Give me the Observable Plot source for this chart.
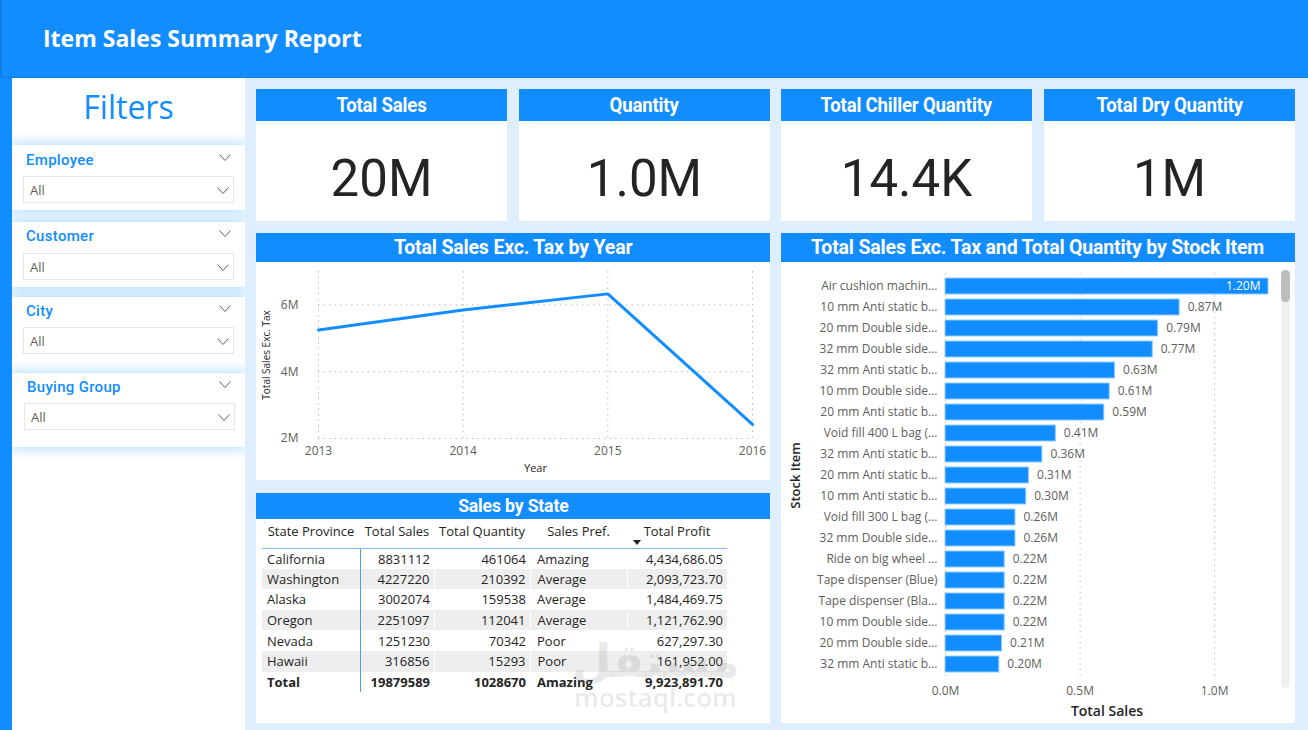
<!DOCTYPE html>
<html lang="en"><head><meta charset="utf-8">
<title>Item Sales Summary Report</title>
<script src="https://cdn.jsdelivr.net/npm/d3@7"></script>
<script src="https://cdn.jsdelivr.net/npm/@observablehq/plot@0.6"></script>
<style>
*{box-sizing:border-box}
html,body{margin:0;padding:0}
body{width:1308px;height:730px;overflow:hidden;position:relative;background:#DFEEFD;font-family:"Open Sans","Noto Sans",sans-serif;color:#252423}
.abs{position:absolute}
svg{display:block}
#topbar{left:0;top:0;width:1308px;height:78px;background:#118DFF;border-bottom:1px solid #0E7FE8;border-left:2px solid #0E7FE8}
#title{left:43px;top:22px;font-size:23px;font-weight:700;color:#fff;white-space:nowrap;line-height:32px}
#strip{left:0;top:78px;width:12px;height:652px;background:#118DFF}
#panel{left:12px;top:78px;width:233px;height:652px;background:#fff;overflow:hidden}
#filtersTitle{left:0;top:9px;width:233px;text-align:center;font-size:32px;font-weight:400;line-height:40px;color:#118DFF}
.slicer{position:absolute;left:0;width:233px;background:#fff;box-shadow:0 0 12px 2px rgba(17,141,255,0.30)}
.slicer .lab{position:absolute;left:14px;font-family:Roboto,sans-serif;font-weight:500;font-size:15px;line-height:20px;color:#118DFF;letter-spacing:0.3px}
.slicer .box{position:absolute;height:27px;width:211px;border:1px solid #E6E6E6;background:#fff}
.slicer .box span{position:absolute;left:6px;top:5px;font-size:13px;line-height:17px;color:#605E5C}
.chev{position:absolute}
.card{position:absolute;background:#fff}
.card .hd{position:absolute;left:0;top:0;width:100%;background:#118DFF;color:#fff;text-align:center;white-space:nowrap;overflow:hidden}
.card .hd span{display:inline-block;font-family:Roboto,sans-serif;font-weight:700;transform:scaleX(0.93);transform-origin:center;letter-spacing:-0.2px}
.kpi .val{position:absolute;left:0;top:40px;width:100%;height:100px;text-align:center;font-family:Roboto,sans-serif;font-weight:400;font-size:51px;line-height:100px;color:#252423}
table{border-collapse:collapse;table-layout:fixed;font-size:13px;color:#252423}
th{font-weight:400;height:29px;text-align:center;padding:0;white-space:nowrap;border-bottom:1px solid #7DBBF7;position:relative;vertical-align:top;padding-top:3px}
td{height:20.6px;padding:0 4px;white-space:nowrap;line-height:20px}
td.c0{padding-left:5px;border-right:1px solid #4A9FF0}
td.num{text-align:right}
tr.alt td{background:#EEEEEE}
tr.alt td.s{border-right:1px solid #fff}
tr.tot td{font-weight:700}
#watermark{left:568px;top:636px;width:175px;text-align:center;color:rgba(120,120,120,0.16);pointer-events:none;line-height:1}
#scroll{left:1281px;top:270px;width:9px;height:418px;border-radius:5px;background:#F0F0F0}
#thumb{left:1281px;top:270px;width:9px;height:32px;border-radius:5px;background:#BDBDBD}
</style>
</head>
<body>
<div id="topbar" class="abs"></div>
<div id="title" class="abs">Item Sales Summary Report</div>
<div id="strip" class="abs"></div>
<div id="panel" class="abs"><div id="filtersTitle" class="abs">Filters</div></div>
<script>
// ---------------- data ----------------
const filterNames = ["Employee", "Customer", "City", "Buying Group"];
const filterValues = ["All", "All", "All", "All"];

const kpiTitles = ["Total Sales", "Quantity", "Total Chiller Quantity", "Total Dry Quantity"];
const kpiValues = ["20M", "1.0M", "14.4K", "1M"];

const years = [2013, 2014, 2015, 2016];
const salesExTax = [5.25e6, 5.85e6, 6.33e6, 2.42e6];
const lineTicks = [2e6, 4e6, 6e6];

const tableColumns = ["State Province", "Total Sales", "Total Quantity", "Sales Pref.", "Total Profit"];
const states = ["California", "Washington", "Alaska", "Oregon", "Nevada", "Hawaii"];
const stateSales = [8831112, 4227220, 3002074, 2251097, 1251230, 316856];
const stateQuantity = [461064, 210392, 159538, 112041, 70342, 15293];
const statePref = ["Amazing", "Average", "Average", "Average", "Poor", "Poor"];
const stateProfit = [4434686.05, 2093723.70, 1484469.75, 1121762.90, 627297.30, 161952.00];
const totalRow = ["Total", 19879589, 1028670, "Amazing", 9923891.70];

const stockItems = [
  "Air cushion machin...", "10 mm Anti static b...", "20 mm Double side...", "32 mm Double side...",
  "32 mm Anti static b...", "10 mm Double side...", "20 mm Anti static b...", "Void fill 400 L bag (...",
  "32 mm Anti static b...", "20 mm Anti static b...", "10 mm Anti static b...", "Void fill 300 L bag (...",
  "32 mm Double side...", "Ride on big wheel ...", "Tape dispenser (Blue)", "Tape dispenser (Bla...",
  "10 mm Double side...", "20 mm Double side...", "32 mm Anti static b..."
];
const stockSales = [1.20e6, 0.87e6, 0.79e6, 0.77e6, 0.63e6, 0.61e6, 0.59e6, 0.41e6, 0.36e6, 0.31e6,
  0.30e6, 0.26e6, 0.26e6, 0.22e6, 0.22e6, 0.22e6, 0.22e6, 0.21e6, 0.20e6];
const barTicks = [0, 0.5e6, 1e6];

// ---------------- helpers ----------------
const BLUE = "#118DFF";
const chevron = (w, h) => `<svg width="${w}" height="${h}" viewBox="0 0 ${w} ${h}"><polyline points="0.5,0.5 ${w/2},${h-0.5} ${w-0.5},0.5" fill="none" stroke="#605E5C" stroke-width="1"/></svg>`;
function el(tag, cls, parent, css) {
  const e = document.createElement(tag);
  if (cls) e.className = cls;
  if (css) Object.assign(e.style, css);
  (parent || document.body).appendChild(e);
  return e;
}
function header(card, text, h, fs) {
  const d = el("div", "hd", card, {height: h + "px", lineHeight: h + "px"});
  const s = el("span", "", d, {fontSize: fs + "px"});
  s.textContent = text;
}

// ---------------- filters ----------------
const panel = document.getElementById("panel");
const slicerGeom = [
  {top: 67, h: 65, lab: 5, box: 31, bl: 11},
  {top: 144, h: 65, lab: 4, box: 31, bl: 11},
  {top: 219, h: 76, lab: 4, box: 30, bl: 11},
  {top: 295, h: 74, lab: 4, box: 30, bl: 12}
];
filterNames.forEach((name, i) => {
  const g = slicerGeom[i];
  const s = el("div", "slicer", panel, {top: g.top + "px", height: g.h + "px", zIndex: i + 1});
  const l = el("div", "lab", s, {top: g.lab + "px", left: (g.bl + 3) + "px"}); l.textContent = name;
  const c = el("div", "chev", s, {left: "207px", top: (g.lab + 4) + "px"}); c.innerHTML = chevron(12, 7);
  const b = el("div", "box", s, {top: g.box + "px", left: g.bl + "px"});
  const sp = el("span", "", b); sp.textContent = filterValues[i];
  const c2 = el("div", "chev", b, {left: "193px", top: "10px"}); c2.innerHTML = chevron(12, 7);
});

// ---------------- KPI cards ----------------
const kpiLeft = [256, 519, 781, 1044];
kpiTitles.forEach((t, i) => {
  const c = el("div", "card kpi", document.body, {left: kpiLeft[i] + "px", top: "89px", width: "251px", height: "132px"});
  header(c, t, 32, 20);
  const v = el("div", "val", c); v.textContent = kpiValues[i];
});

// ---------------- line chart ----------------
const lineCard = el("div", "card", document.body, {left: "256px", top: "233px", width: "514px", height: "247px"});
header(lineCard, "Total Sales Exc. Tax by Year", 29, 21);
const lineData = years.map((y, i) => ({year: y, value: salesExTax[i]}));
const mFmt = d => d / 1e6 + "M";
const linePlot = Plot.plot({
  width: 514, height: 218,
  marginLeft: 62, marginRight: 18, marginTop: 9, marginBottom: 42,
  style: {fontFamily: "'Open Sans', sans-serif", fontSize: "12px", color: "#605E5C", background: "transparent", overflow: "visible"},
  x: {domain: [2013, 2016]},
  y: {domain: [2e6, 7e6]},
  marks: [
    Plot.gridX(years, {stroke: "#BDBDBD", strokeOpacity: 1, strokeDasharray: "1.5,4"}),
    Plot.gridY(lineTicks, {stroke: "#BDBDBD", strokeOpacity: 1, strokeDasharray: "1.5,4"}),
    Plot.line(lineData, {x: "year", y: "value", stroke: BLUE, strokeWidth: 3}),
    Plot.axisX({ticks: years, tickFormat: d => String(d), tickSize: 0, tickPadding: 8, label: null, fill: "#605E5C"}),
    Plot.axisY({ticks: lineTicks, tickFormat: mFmt, tickSize: 0, tickPadding: 20, label: null, fill: "#605E5C"}),
    Plot.text(["Year"], {text: d => d, frameAnchor: "bottom", lineAnchor: "middle", dy: 30, fontSize: 11, fill: "#252423"}),
    Plot.text(["Total Sales Exc. Tax"], {text: d => d, frameAnchor: "left", textAnchor: "middle", rotate: -90, dx: -52, fontSize: 10, fill: "#252423"})
  ]
});
Object.assign(linePlot.style, {position: "absolute", left: "0px", top: "29px"});
lineCard.appendChild(linePlot);

// ---------------- table ----------------
const tCard = el("div", "card", document.body, {left: "256px", top: "493px", width: "514px", height: "230px"});
header(tCard, "Sales by State", 26, 19);
const colW = [98, 74, 96, 97, 100];
const profitFmt = d3.format(",.2f");
let html = `<table style="position:absolute;left:6px;top:26px;width:465px"><colgroup>${colW.map(w => `<col style="width:${w}px">`).join("")}</colgroup><thead><tr>`;
tableColumns.forEach((c, i) => {
  html += `<th>${c}${i === 4 ? '<span style="position:absolute;left:6px;top:21px;width:0;height:0;border-left:4px solid transparent;border-right:4px solid transparent;border-top:5px solid #252423"></span>' : ""}</th>`;
});
html += "</tr></thead><tbody>";
const rowHtml = (r, cls) => `<tr class="${cls}"><td class="c0">${r[0]}</td><td class="num s">${r[1]}</td><td class="num s">${r[2]}</td><td class="s" style="padding-left:7px">${r[3]}</td><td class="num">${profitFmt(r[4])}</td></tr>`;
states.forEach((s, i) => {
  html += rowHtml([s, stateSales[i], stateQuantity[i], statePref[i], stateProfit[i]], i % 2 ? "alt" : "");
});
html += rowHtml(totalRow, "tot");
html += "</tbody></table>";
tCard.insertAdjacentHTML("beforeend", html);
const wm = el("div", "abs", document.body); wm.id = "watermark";
wm.innerHTML = '<div style="font-size:46px;font-weight:700;font-family:\'Noto Sans\',\'DejaVu Sans\',sans-serif" dir="rtl">مستقل</div><div style="font-size:26px;font-weight:600;margin-top:2px">mostaql.com</div>';

// ---------------- bar chart ----------------
const barCard = el("div", "card", document.body, {left: "781px", top: "233px", width: "514px", height: "490px"});
header(barCard, "Total Sales Exc. Tax and Total Quantity by Stock Item", 29, 21);
const barData = stockItems.map((name, i) => ({i, name, value: stockSales[i]}));
const vFmt = d => (d / 1e6).toFixed(2) + "M";
const barPlot = Plot.plot({
  width: 514, height: 461,
  marginLeft: 164, marginRight: 27, marginTop: 11, marginBottom: 46,
  style: {fontFamily: "'Open Sans', sans-serif", fontSize: "12px", color: "#605E5C", background: "transparent", overflow: "visible"},
  x: {domain: [0, 1.2e6]},
  y: {domain: barData.map(d => d.i), padding: 0.22},
  marks: [
    Plot.gridX(barTicks, {stroke: "#BDBDBD", strokeOpacity: 1, strokeDasharray: "1.5,4"}),
    Plot.barX(barData, {x: "value", y: "i", fill: BLUE, stroke: "#93CBFF", strokeWidth: 1}),
    Plot.text(barData.filter(d => d.value < 1e6), {x: "value", y: "i", text: d => vFmt(d.value), dx: 8, textAnchor: "start", fill: "#605E5C", fontSize: 12}),
    Plot.text(barData.filter(d => d.value >= 1e6), {x: "value", y: "i", text: d => vFmt(d.value), dx: -8, textAnchor: "end", fill: "#fff", fontSize: 12}),
    Plot.axisX({ticks: barTicks, tickFormat: d => (d / 1e6).toFixed(1) + "M", tickSize: 0, tickPadding: 9, label: null, fill: "#605E5C"}),
    Plot.axisY({tickFormat: i => stockItems[i], tickSize: 0, tickPadding: 8, label: null, fill: "#605E5C"}),
    Plot.text(["Total Sales"], {text: d => d, frameAnchor: "bottom", lineAnchor: "middle", dy: 34, fontSize: 14, fontWeight: 600, fill: "#252423"}),
    Plot.text(["Stock Item"], {text: d => d, frameAnchor: "left", textAnchor: "middle", rotate: -90, dx: -150, fontSize: 13, fontWeight: 600, fill: "#252423"})
  ]
});
Object.assign(barPlot.style, {position: "absolute", left: "0px", top: "29px"});
barCard.appendChild(barPlot);
el("div", "abs", document.body).id = "scroll";
el("div", "abs", document.body).id = "thumb";
</script>
</body></html>
